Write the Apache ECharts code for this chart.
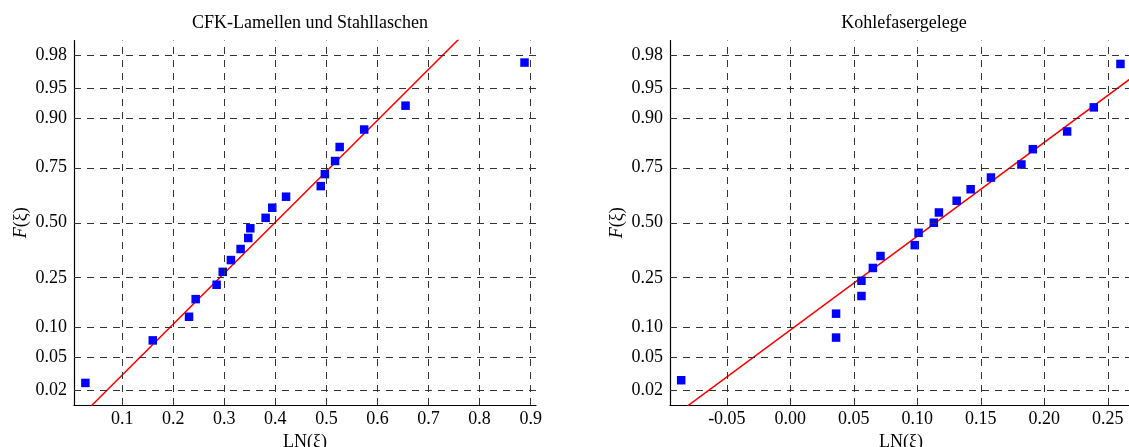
<!DOCTYPE html>
<html>
<head>
<meta charset="utf-8">
<script src="https://cdn.jsdelivr.net/npm/echarts@6/dist/echarts.min.js"></script>
<style>
html,body{margin:0;padding:0;background:#fff;}
#chart{width:1129px;height:447px;}
</style>
</head>
<body>
<div id="chart"></div>
<script>
// ---- data ----
const leftTitle = 'CFK-Lamellen und Stahllaschen';
const rightTitle = 'Kohlefasergelege';
const leftX = [0.028, 0.160, 0.231, 0.244, 0.285, 0.297, 0.313, 0.332, 0.347, 0.351, 0.381, 0.394, 0.421, 0.489, 0.497, 0.517, 0.526, 0.574, 0.655, 0.888];
const leftF = [0.025, 0.075, 0.125, 0.175, 0.224, 0.274, 0.324, 0.374, 0.426, 0.473, 0.524, 0.573, 0.625, 0.673, 0.724, 0.775, 0.823, 0.873, 0.924, 0.975];
const rightX = [-0.086, 0.036, 0.036, 0.056, 0.056, 0.065, 0.071, 0.098, 0.101, 0.113, 0.117, 0.131, 0.142, 0.158, 0.182, 0.191, 0.218, 0.239, 0.260];
const rightF = [0.027, 0.080, 0.133, 0.185, 0.239, 0.290, 0.342, 0.392, 0.451, 0.500, 0.550, 0.606, 0.659, 0.710, 0.762, 0.816, 0.868, 0.921, 0.974];
// fitted normal distribution of LN(xi): mean, std
const leftFit = [0.399, 0.1604];
const rightFit = [0.1143, 0.0871];
// axis ranges and ticks
const leftXRange = [0.0057, 0.9105];
const rightXRange = [-0.0948, 0.2691];
const zRange = [-2.23, 2.23];
const leftXTicks = [0.1, 0.2, 0.3, 0.4, 0.5, 0.6, 0.7, 0.8, 0.9];
const rightXTicks = [-0.05, 0.00, 0.05, 0.10, 0.15, 0.20, 0.25];
const yTicks = [0.02, 0.05, 0.10, 0.25, 0.50, 0.75, 0.90, 0.95, 0.98];

// inverse standard normal CDF (Acklam)
function probit(p){
  const a=[-3.969683028665376e+01,2.209460984245205e+02,-2.759285104469687e+02,1.383577518672690e+02,-3.066479806614716e+01,2.506628277459239e+00];
  const b=[-5.447609879822406e+01,1.615858368580409e+02,-1.556989798598866e+02,6.680131188771972e+01,-1.328068155288572e+01];
  const c=[-7.784894002430293e-03,-3.223964580411365e-01,-2.400758277161838e+00,-2.549732539343734e+00,4.374664141464968e+00,2.938163982698783e+00];
  const d=[7.784695709041462e-03,3.224671290700398e-01,2.445134137142996e+00,3.754408661907416e+00];
  const pl=0.02425;
  if(p<pl){const q=Math.sqrt(-2*Math.log(p));return (((((c[0]*q+c[1])*q+c[2])*q+c[3])*q+c[4])*q+c[5])/((((d[0]*q+d[1])*q+d[2])*q+d[3])*q+1);}
  if(p<=1-pl){const q=p-0.5,r=q*q;return (((((a[0]*r+a[1])*r+a[2])*r+a[3])*r+a[4])*r+a[5])*q/(((((b[0]*r+b[1])*r+b[2])*r+b[3])*r+b[4])*r+1);}
  const q=Math.sqrt(-2*Math.log(1-p));
  return -(((((c[0]*q+c[1])*q+c[2])*q+c[3])*q+c[4])*q+c[5])/((((d[0]*q+d[1])*q+d[2])*q+d[3])*q+1);
}

const FONT = 'Liberation Serif';
const yTickZ = yTicks.map(probit);
function yLabel(v){
  for (let i=0;i<yTicks.length;i++){ if (Math.abs(yTickZ[i]-v)<1e-6) return yTicks[i].toFixed(2); }
  return '';
}
const gridTop = 40.5, gridH = 364.5, gridW = 462;
const grids = [
  {left: 74, top: gridTop, width: gridW, height: gridH, outerBoundsMode: 'none', containLabel: false},
  {left: 670, top: gridTop, width: gridW, height: gridH, outerBoundsMode: 'none', containLabel: false}
];
const dash = {type: [7, 6], color: '#333', width: 1};
const labelStyle = {fontFamily: FONT, fontSize: 18, color: '#000'};

function xAxisCfg(idx, range, ticks, dec){
  return {
    type: 'value', gridIndex: idx, min: range[0], max: range[1],
    name: 'LN(ξ)', nameLocation: 'middle', nameGap: 27,
    nameTextStyle: {fontFamily: FONT, fontSize: 18, color: '#000'},
    axisLine: {show: true, onZero: false, lineStyle: {color: '#000', width: 1.2}},
    axisTick: {show: false},
    splitLine: {show: false},
    axisLabel: Object.assign({customValues: ticks, formatter: v => v.toFixed(dec), margin: 5}, labelStyle)
  };
}
function yAxisCfg(idx){
  return {
    type: 'value', gridIndex: idx, min: zRange[0], max: zRange[1],
    name: '{i|F}(ξ)', nameLocation: 'middle', nameGap: 44, nameRotate: 90,
    nameTextStyle: {fontFamily: FONT, fontSize: 18, color: '#000', rich: {i: {fontStyle: 'italic', fontFamily: FONT, fontSize: 18, color: '#000'}}},
    axisLine: {show: true, onZero: false, lineStyle: {color: '#000', width: 1.2}},
    axisTick: {show: false},
    splitLine: {show: false},
    axisLabel: Object.assign({customValues: yTickZ, formatter: yLabel, margin: 7}, labelStyle)
  };
}
function gridSeries(idx, xticks){
  return {
    type: 'line', xAxisIndex: idx, yAxisIndex: idx, data: [], z: 0, silent: true,
    markLine: {
      silent: true, symbol: ['none','none'], animation: false,
      label: {show: false}, lineStyle: dash, emphasis: {disabled: true},
      data: xticks.map(v => ({xAxis: v})).concat(yTickZ.map(z => ({yAxis: z})))
    }
  };
}
function pointSeries(idx, xs, fs){
  return {
    type: 'scatter', xAxisIndex: idx, yAxisIndex: idx, symbol: 'rect', symbolSize: 8.5,
    itemStyle: {color: '#0000ff', opacity: 1}, z: 3, animation: false,
    data: xs.map((x, i) => [x, probit(fs[i])])
  };
}
function fitSeries(idx, range, fit){
  return {
    type: 'line', xAxisIndex: idx, yAxisIndex: idx, showSymbol: false, symbol: 'none', clip: true, z: 2,
    lineStyle: {color: '#ff0000', width: 1.5}, animation: false,
    data: range.map(x => [x, (x - fit[0]) / fit[1]])
  };
}

const chart = echarts.init(document.getElementById('chart'), null, {renderer: 'canvas'});
chart.setOption({
  backgroundColor: '#fff',
  animation: false,
  textStyle: {fontFamily: FONT, fontSize: 18, color: '#000'},
  title: [
    {text: leftTitle, left: 74 + gridW/2, top: 9, textAlign: 'center', textStyle: {fontFamily: FONT, fontSize: 18, fontWeight: 'normal', color: '#000'}},
    {text: rightTitle, left: 670 + gridW/2 - 2, top: 9, textAlign: 'center', textStyle: {fontFamily: FONT, fontSize: 18, fontWeight: 'normal', color: '#000'}}
  ],
  grid: grids,
  xAxis: [xAxisCfg(0, leftXRange, leftXTicks, 1), xAxisCfg(1, rightXRange, rightXTicks, 2)],
  yAxis: [yAxisCfg(0), yAxisCfg(1)],
  series: [
    gridSeries(0, leftXTicks), gridSeries(1, rightXTicks),
    fitSeries(0, leftXRange, leftFit), fitSeries(1, rightXRange, rightFit),
    pointSeries(0, leftX, leftF), pointSeries(1, rightX, rightF)
  ]
});
</script>
</body>
</html>
